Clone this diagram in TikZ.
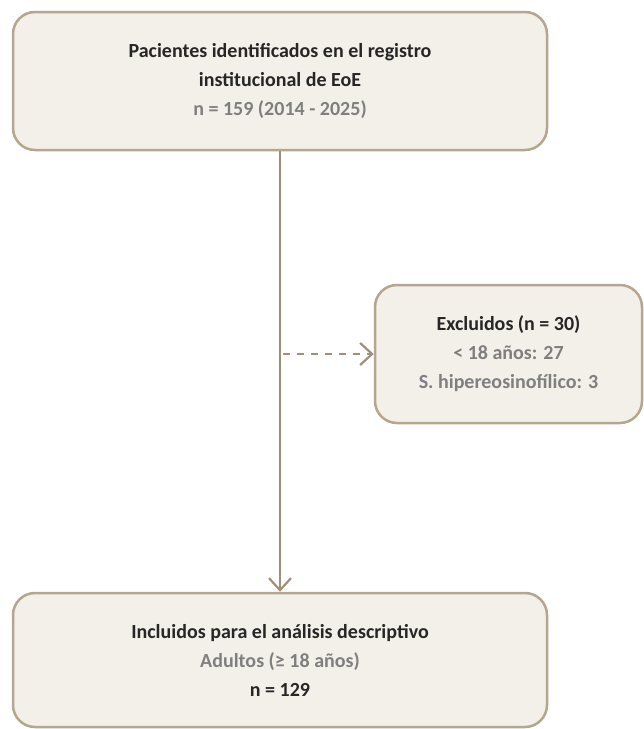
\documentclass[tikz,border=0pt]{standalone}
\usepackage{fontspec}
\setmainfont{Carlito}
\usetikzlibrary{arrows.meta,positioning}
\definecolor{boxfill}{HTML}{F3F0EA}
\definecolor{boxline}{HTML}{B5A68D}
\definecolor{flowline}{HTML}{A09079}
\definecolor{darktext}{HTML}{262626}
\definecolor{greytext}{HTML}{7F7F7F}
\tikzset{
  stage/.style={draw=boxline, fill=boxfill, line width=2.5pt, rounded corners=22pt,
    align=center, font=\fontsize{20}{29}\selectfont\bfseries, text=darktext, inner sep=0pt},
  flow/.style={draw=flowline, line width=2.2pt,
    -{Straight Barb[length=12pt,width=22pt,line width=2.2pt]}},
  dashedflow/.style={flow, dash pattern=on 7pt off 7pt},
}
\begin{document}
\begin{tikzpicture}[x=1pt,y=-1pt]
  \useasboundingbox (0,0) rectangle (644,729);
  \node[stage, minimum width=534pt, minimum height=138pt] (registro) at (280,81)
    {Pacientes identificados en el registro\\ institucional de EoE\\
     \color{greytext}n = 159 (2014 - 2025)};
  \node[stage, minimum width=267pt, minimum height=138pt] (excluidos) at (508.5,354)
    {Excluidos (n = 30)\\ \color{greytext}< 18 años: 27\\
     \color{greytext}S. hipereosinofílico: 3};
  \node[stage, minimum width=534pt, minimum height=134pt] (incluidos) at (280,660)
    {Incluidos para el análisis descriptivo\\ \color{greytext}Adultos (≥ 18 años)\\
     n = 129};
  % flujo principal y exclusiones
  \draw[flow] (registro) -- (incluidos);
  \draw[dashedflow] ([xshift=3pt]registro.south |- excluidos.west) -- (excluidos.west);
\end{tikzpicture}
\end{document}
